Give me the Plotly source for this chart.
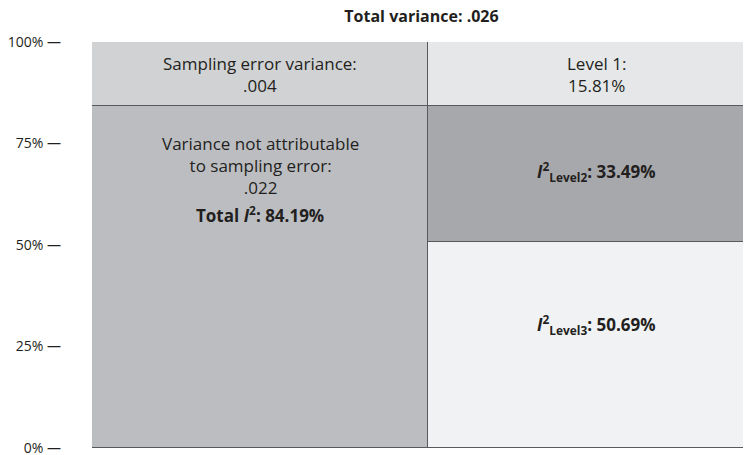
import plotly.graph_objects as go

bars = ["Total", "Levels"]
# stacked segments (bottom to top) in percent
left_segments = [84.19, 15.81]
right_segments = [50.69, 33.49, 15.81]
left_colors = ["#bcbdc1", "#d1d2d4"]
right_colors = ["#f1f2f4", "#a7a8ab", "#e6e7e8"]
tick_vals = [0, 25, 50, 75, 100]
tick_text = ["0% —", "25% —", "50% —", "75% —", "100% —"]
title_text = "<b>Total variance: .026</b>"

FONT = "Open Sans"
edge = "#58595b"

fig = go.Figure()
for i in range(3):
    xs, ys, cs = [], [], []
    if i < len(left_segments):
        xs.append(bars[0]); ys.append(left_segments[i]); cs.append(left_colors[i])
    xs.append(bars[1]); ys.append(right_segments[i]); cs.append(right_colors[i])
    fig.add_trace(go.Bar(
        x=xs, y=ys, width=1.0,
        marker=dict(color=cs, line=dict(color=edge, width=1.5)),
        showlegend=False, hoverinfo="skip",
    ))

txt = dict(family=FONT, size=17, color="#231f20")
anns = [
    (bars[0], (left_segments[0] + 100) / 2, "Sampling error variance:<br>.004"),
    (bars[1], (right_segments[0] + right_segments[1] + 100) / 2, "Level 1:<br>15.81%"),
    (bars[0], 69.5, "Variance not attributable<br>to sampling error:<br>.022"),
    (bars[0], 57.4, "<b>Total <i>I</i><sup>2</sup>: 84.19%</b>"),
    (bars[1], 68.0, "<b><i>I</i><sup>2</sup><sub>Level2</sub>: 33.49%</b>"),
    (bars[1], 30.3, "<b><i>I</i><sup>2</sup><sub>Level3</sub>: 50.69%</b>"),
]
for x, y, t in anns:
    fig.add_annotation(x=x, y=y, xref="x", yref="y", text=t, showarrow=False,
                       font=txt, align="center")

# page has an 8px body margin: figure is placed at (8, 8) in the window
W, H = 743, 447
fig.update_layout(
    barmode="stack", bargap=0,
    width=W, height=H,
    margin=dict(l=84, r=0, t=34, b=7, autoexpand=False),
    paper_bgcolor="white", plot_bgcolor="white",
    title=dict(text=title_text, x=0.5, xanchor="center", xref="paper",
               y=1 - 8 / H, yanchor="middle", yref="container",
               font=dict(family=FONT, size=16, color="#231f20")),
    xaxis=dict(range=[-0.5, 1.461], showticklabels=False, showgrid=False,
               zeroline=False, fixedrange=True, automargin=False),
    yaxis=dict(range=[0, 100], tickvals=tick_vals, ticktext=tick_text,
               showgrid=False, zeroline=False, ticks="", ticklabelstandoff=30,
               automargin=False, ticklabeloverflow="allow",
               tickfont=dict(family=FONT, size=14, color="#231f20")),
)
fig.write_html("out.html")
